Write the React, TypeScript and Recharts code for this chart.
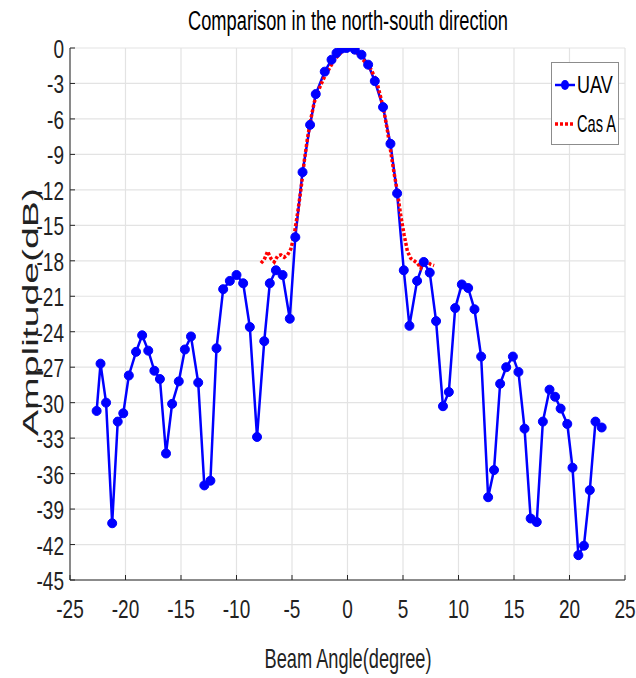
import React from 'react';
import { LineChart, Line, XAxis, YAxis, CartesianGrid } from 'recharts';

// UAV measurement (beam angle in degrees, amplitude in dB)
const uavAngle = [
  -22.6, -22.25, -21.75, -21.2, -20.7, -20.2, -19.7, -19.05, -18.5, -17.95,
  -17.4, -16.9, -16.35, -15.8, -15.2, -14.65, -14.1, -13.45, -12.9, -12.35,
  -11.8, -11.2, -10.6, -10.0, -9.4, -8.8, -8.15, -7.5, -7.0, -6.45,
  -5.85, -5.2, -4.7, -4.05, -3.37, -2.86, -2.05, -1.44, -0.99, -0.54,
  -0.09, 0.66, 1.26, 1.86, 2.46, 3.2, 3.87, 4.47, 5.07, 5.58,
  6.27, 6.87, 7.41, 7.98, 8.6, 9.13, 9.7, 10.3, 10.87, 11.44,
  12.04, 12.67, 13.2, 13.75, 14.3, 14.9, 15.4, 15.95, 16.5, 17.05,
  17.6, 18.2, 18.7, 19.2, 19.8, 20.27, 20.8, 21.3, 21.83, 22.34,
  22.9,
];
const uavAmp = [
  -30.7, -26.7, -30.0, -40.2, -31.6, -30.9, -27.7, -25.7, -24.3, -25.6,
  -27.3, -28.0, -34.3, -30.1, -28.2, -25.5, -24.4, -28.3, -37.0, -36.6,
  -25.4, -20.4, -19.7, -19.2, -19.9, -23.6, -32.9, -24.8, -19.9, -18.8,
  -19.2, -22.9, -16.0, -10.5, -6.5, -3.9, -2.0, -0.99, -0.42, -0.06,
  0.0, -0.14, -0.57, -1.41, -2.8, -5.0, -8.1, -12.3, -18.8, -23.5,
  -19.7, -18.1, -19.0, -23.1, -30.3, -29.1, -22.0, -20.0, -20.3, -22.1,
  -26.1, -38.0, -35.7, -28.4, -27.0, -26.1, -27.4, -32.2, -39.8, -40.1,
  -31.6, -28.9, -29.5, -30.5, -31.8, -35.5, -42.9, -42.1, -37.4, -31.6,
  -32.1,
];

// Cas A reference pattern
const casAngle = [
  -7.8, -7.5, -7.2, -6.9, -6.6, -6.3, -6.0, -5.7, -5.4, -5.1,
  -4.8, -4.5, -4.2, -3.9, -3.6, -3.3, -3.0, -2.7, -2.4, -2.1,
  -1.8, -1.5, -1.2, -0.9, -0.6, -0.3, 0.0, 0.3, 0.6, 0.9,
  1.2, 1.5, 1.8, 2.1, 2.4, 2.7, 3.0, 3.3, 3.6, 3.9,
  4.2, 4.5, 4.8, 5.1, 5.4, 5.7, 6.0, 6.3, 6.6, 6.9,
  7.2, 7.5, 7.8,
];
const casAmp = [
  -18.2, -17.9, -17.2, -17.8, -18.1, -17.6, -17.5, -17.7, -17.5, -17.0,
  -15.8, -14.0, -12.0, -9.6, -7.6, -6.0, -4.6, -3.8, -3.1, -2.5,
  -2.0, -1.5, -1.05, -0.7, -0.4, -0.2, -0.05, -0.05, -0.2, -0.45,
  -0.8, -1.1, -1.4, -1.8, -2.35, -3.1, -4.2, -5.4, -7.0, -8.8,
  -10.6, -12.2, -14.2, -15.8, -17.2, -17.8, -18.0, -18.2, -18.6, -17.9,
  -18.1, -18.3, -18.4,
];

const xTicks = [-25, -20, -15, -10, -5, 0, 5, 10, 15, 20, 25];
const yTicks = [0, -3, -6, -9, -12, -15, -18, -21, -24, -27, -30, -33, -36, -39, -42, -45];

const uavData = uavAngle.map((a, i) => ({ angle: a, uav: uavAmp[i] }));
const casData = casAngle.map((a, i) => ({ angle: a, cas: casAmp[i] }));

const FONT = "'Liberation Sans Narrow', 'Liberation Sans', Arial, sans-serif";
const AXIS = '#262626';

// tall, narrow MATLAB-style labels
const BottomTick = ({ x, y, payload }: any) => (
  <g>
    <line x1={x} y1={y} x2={x} y2={y - 5} stroke={AXIS} />
    <text x={0} y={0} textAnchor="middle" fontFamily={FONT} fontSize={19}
      fill="#222" transform={`translate(${x} ${y + 38}) scale(1 1.4)`}>
      {payload.value}
    </text>
  </g>
);

const LeftTick = ({ x, y, payload }: any) => (
  <g>
    <line x1={x} y1={y} x2={x + 5} y2={y} stroke={AXIS} />
    <text x={0} y={0} textAnchor="end" fontFamily={FONT} fontSize={19}
      fill="#222" transform={`translate(${x - 6} ${y + 10}) scale(1 1.4)`}>
      {payload.value}
    </text>
  </g>
);

const TopTick = ({ x, y }: any) => <line x1={x} y1={y} x2={x} y2={y + 5} stroke={AXIS} />;
const RightTick = ({ x, y }: any) => <line x1={x} y1={y} x2={x - 5} y2={y} stroke={AXIS} />;

export default function App() {
  return (
    <div style={{ position: 'absolute', left: 0, top: 0, width: 636, height: 678, background: '#fff' }}>
      <LineChart width={636} height={678} margin={{ top: 48, right: 11, bottom: 0, left: 0 }}>
        <CartesianGrid stroke="#e3e3e3" strokeWidth={1.2} />
        <XAxis dataKey="angle" type="number" domain={[-25, 25]} ticks={xTicks}
          allowDataOverflow height={98} tickSize={0} tickMargin={0} tickLine={false}
          axisLine={{ stroke: AXIS }} tick={<BottomTick />} interval={0} />
        <XAxis xAxisId="top" orientation="top" type="number" domain={[-25, 25]} ticks={xTicks}
          allowDataOverflow height={0} tickSize={0} tickMargin={0} tickLine={false}
          axisLine={{ stroke: AXIS }} tick={<TopTick />} interval={0} />
        <YAxis type="number" domain={[-45, 0]} ticks={yTicks} allowDataOverflow width={70}
          tickSize={0} tickMargin={0} tickLine={false} axisLine={{ stroke: AXIS }}
          tick={<LeftTick />} interval={0} />
        <YAxis yAxisId="right" orientation="right" type="number" domain={[-45, 0]} ticks={yTicks}
          allowDataOverflow width={0} tickSize={0} tickMargin={0} tickLine={false}
          axisLine={{ stroke: AXIS }} tick={<RightTick />} interval={0} />
        <Line data={uavData} dataKey="uav" name="UAV" stroke="#0000ff" strokeWidth={2.5}
          dot={{ r: 4.5, fill: '#0000ff', stroke: '#0000ff', strokeWidth: 1 }}
          isAnimationActive={false} />
        <Line data={casData} dataKey="cas" name="Cas A" stroke="#ff0000" strokeWidth={3.5}
          strokeDasharray="3 2" dot={false} isAnimationActive={false} />
      </LineChart>
      <svg width={636} height={678} style={{ position: 'absolute', left: 0, top: 0, pointerEvents: 'none' }}>
        <text x={0} y={0} transform="translate(348 30) scale(1 1.4)" textAnchor="middle"
          fontFamily={FONT} fontSize={20} fill="#000" textLength={320} lengthAdjust="spacingAndGlyphs">
          Comparison in the north-south direction
        </text>
        <text x={0} y={0} transform="translate(348 668) scale(1 1.45)" textAnchor="middle"
          fontFamily={FONT} fontSize={19} fill="#222" textLength={167} lengthAdjust="spacingAndGlyphs">
          Beam Angle(degree)
        </text>
        <text x={0} y={0} transform="translate(38 312) rotate(-90)" textAnchor="middle"
          fontFamily="'Liberation Sans', Arial, sans-serif" fontSize={22} fill="#222"
          textLength={248} lengthAdjust="spacingAndGlyphs">
          Amplitude(dB)
        </text>
        {/* legend */}
        <g transform="translate(551 62)">
          <rect x={0.5} y={0.5} width={67} height={82} fill="#fff" stroke="#8c8c8c" />
          <line x1={4} y1={23} x2={24} y2={23} stroke="#0000ff" strokeWidth={2.5} />
          <ellipse cx={14} cy={23} rx={4} ry={5} fill="#0000ff" />
          <text x={0} y={0} transform="translate(26 31) scale(1 1.3)" fontFamily={FONT}
            fontSize={18} fill="#000">UAV</text>
          <line x1={4} y1={62} x2={24} y2={62} stroke="#ff0000" strokeWidth={3.5} strokeDasharray="3 2" />
          <text x={0} y={0} transform="translate(26 70) scale(1 1.3)" fontFamily={FONT}
            fontSize={18} fill="#000" textLength={39} lengthAdjust="spacingAndGlyphs">Cas A</text>
        </g>
      </svg>
    </div>
  );
}
